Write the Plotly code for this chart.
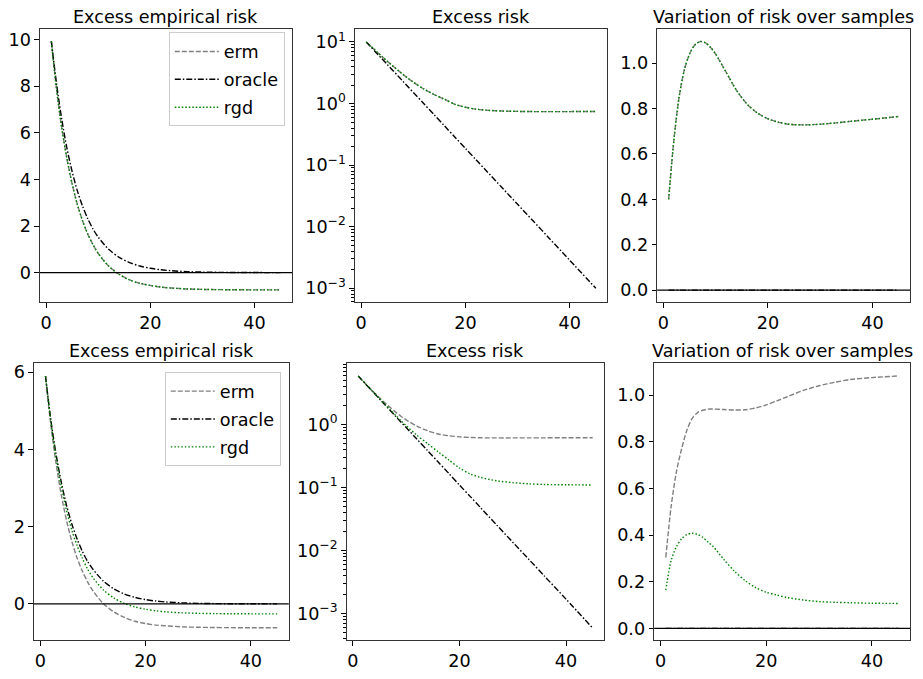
import plotly.graph_objects as go

# ---------------- data ----------------
X = [1, 2, 3, 4, 5, 6, 7, 8, 9, 10, 12, 14, 16, 18, 20, 22, 24, 27, 30, 33, 36, 40, 45]

# top row
erm_emp_top = [9.93, 7.87, 6.21, 4.88, 3.80, 2.92, 2.22, 1.65, 1.20, 0.82, 0.28, -0.07, -0.31, -0.46, -0.55,
               -0.62, -0.66, -0.70, -0.72, -0.73, -0.735, -0.74, -0.74]
oracle_emp_top = [9.93, 8.11, 6.58, 5.33, 4.33, 3.51, 2.85, 2.31, 1.87, 1.52, 1.00, 0.658, 0.432, 0.284, 0.187,
                  0.123, 0.081, 0.043, 0.023, 0.012, 0.0066, 0.0028, 0.001]
rgd_emp_top = [9.93, 7.87, 6.21, 4.88, 3.80, 2.92, 2.22, 1.65, 1.20, 0.82, 0.28, -0.07, -0.31, -0.46, -0.55,
               -0.62, -0.66, -0.70, -0.72, -0.73, -0.735, -0.74, -0.74]

erm_risk_top = [10.0, 8.33, 6.96, 5.82, 4.89, 4.13, 3.50, 2.99, 2.57, 2.23, 1.73, 1.40, 1.17, 0.97, 0.87,
                0.81, 0.78, 0.755, 0.745, 0.74, 0.74, 0.74, 0.742]
oracle_risk_top = [10.0, 8.11, 6.58, 5.33, 4.33, 3.51, 2.85, 2.31, 1.87, 1.52, 1.00, 0.658, 0.432, 0.284, 0.187,
                   0.123, 0.0808, 0.0431, 0.0230, 0.0123, 0.00655, 0.00283, 0.000994]
rgd_risk_top = [10.0, 8.33, 6.96, 5.82, 4.89, 4.13, 3.50, 2.99, 2.57, 2.23, 1.73, 1.40, 1.17, 0.97, 0.87,
                0.81, 0.78, 0.755, 0.745, 0.74, 0.74, 0.74, 0.742]

erm_var_top = [0.40, 0.66, 0.85, 0.97, 1.04, 1.08, 1.095, 1.09, 1.07, 1.04, 0.96, 0.88, 0.82, 0.78, 0.755,
               0.74, 0.731, 0.728, 0.731, 0.737, 0.744, 0.753, 0.765]
oracle_var_top = [0.0, 0.0, 0.0, 0.0, 0.0, 0.0, 0.0, 0.0, 0.0, 0.0, 0.0, 0.0, 0.0, 0.0, 0.0,
                  0.0, 0.0, 0.0, 0.0, 0.0, 0.0, 0.0, 0.0]
rgd_var_top = [0.40, 0.66, 0.85, 0.97, 1.04, 1.08, 1.095, 1.09, 1.07, 1.04, 0.96, 0.88, 0.82, 0.78, 0.755,
               0.74, 0.731, 0.728, 0.731, 0.737, 0.744, 0.753, 0.765]

# bottom row
erm_emp_bot = [5.90, 4.65, 3.64, 2.82, 2.16, 1.62, 1.19, 0.85, 0.57, 0.34, 0.005, -0.21, -0.35, -0.45, -0.51,
               -0.55, -0.57, -0.595, -0.606, -0.613, -0.616, -0.618, -0.62]
oracle_emp_bot = [5.90, 4.78, 3.88, 3.15, 2.55, 2.07, 1.68, 1.36, 1.10, 0.897, 0.590, 0.388, 0.255, 0.168, 0.110,
                  0.0726, 0.0477, 0.0254, 0.0136, 0.0073, 0.0039, 0.0017, 0.0006]
rgd_emp_bot = [5.90, 4.74, 3.80, 3.04, 2.42, 1.91, 1.51, 1.18, 0.90, 0.68, 0.36, 0.15, 0.01, -0.08, -0.14,
               -0.18, -0.21, -0.232, -0.245, -0.252, -0.256, -0.258, -0.26]

erm_risk_bot = [5.90, 4.80, 3.92, 3.22, 2.66, 2.22, 1.87, 1.58, 1.36, 1.19, 0.95, 0.80, 0.71, 0.665, 0.64,
                0.625, 0.618, 0.615, 0.615, 0.616, 0.617, 0.618, 0.62]
oracle_risk_bot = [5.90, 4.78, 3.88, 3.15, 2.55, 2.07, 1.68, 1.36, 1.10, 0.897, 0.590, 0.388, 0.255, 0.168, 0.110,
                   0.0726, 0.0477, 0.0254, 0.0136, 0.0073, 0.0039, 0.0017, 0.00059]
rgd_risk_bot = [5.90, 4.79, 3.89, 3.17, 2.58, 2.10, 1.72, 1.41, 1.16, 0.96, 0.68, 0.50, 0.37, 0.275, 0.205,
                0.165, 0.145, 0.128, 0.12, 0.115, 0.112, 0.111, 0.11]

erm_var_bot = [0.304, 0.52, 0.67, 0.77, 0.85, 0.90, 0.925, 0.935, 0.94, 0.94, 0.938, 0.936, 0.937, 0.945, 0.958,
               0.975, 0.993, 1.02, 1.04, 1.055, 1.067, 1.075, 1.082]
oracle_var_bot = [0.0, 0.0, 0.0, 0.0, 0.0, 0.0, 0.0, 0.0, 0.0, 0.0, 0.0, 0.0, 0.0, 0.0, 0.0,
                  0.0, 0.0, 0.0, 0.0, 0.0, 0.0, 0.0, 0.0]
rgd_var_bot = [0.164, 0.29, 0.35, 0.385, 0.402, 0.408, 0.403, 0.39, 0.37, 0.35, 0.295, 0.245, 0.205, 0.175, 0.155,
               0.143, 0.132, 0.122, 0.115, 0.112, 0.11, 0.108, 0.107]

TITLES = ["Excess empirical risk", "Excess risk", "Variation of risk over samples"]
SERIES = ["erm", "oracle", "rgd"]
LOG_TICKS = [0.001, 0.01, 0.1, 1, 10]
LOG_TICKTEXT = ["10<sup>\u22123</sup>", "10<sup>\u22122</sup>", "10<sup>\u22121</sup>", "10<sup>0</sup>", "10<sup>1</sup>"]

panels = [
    (erm_emp_top, oracle_emp_top, rgd_emp_top),
    (erm_risk_top, oracle_risk_top, rgd_risk_top),
    (erm_var_top, oracle_var_top, rgd_var_top),
    (erm_emp_bot, oracle_emp_bot, rgd_emp_bot),
    (erm_risk_bot, oracle_risk_bot, rgd_risk_bot),
    (erm_var_bot, oracle_var_bot, rgd_var_bot),
]

# ---------------- layout ----------------
# the page body has an 8px margin; the figure is sized to fit inside it
OFF = 8
W, H = 923 - 2 * OFF, 679 - 2 * OFF
# target screenshot pixel boxes (left, top, right, bottom)
boxes = [
    (36, 28, 289.3, 307.7),
    (352.3, 28, 606, 307.5),
    (656, 28.3, 910, 307.5),
    (30, 370, 286, 652.7),
    (344, 369.5, 603, 652.7),
    (653, 370, 910, 652.7),
]
yranges = [
    [-1.277, 10.475],
    [-3.228, 1.218],
    [-0.053, 1.151],
    [-0.938, 6.228],
    [-3.42, 0.98],
    [-0.050, 1.136],
]
styles = {
    "erm": dict(color="#808080", dash="5px,2px", width=1.4),
    "oracle": dict(color="#000000", dash="6px,2px,1.5px,2px", width=1.4),
    "rgd": dict(color="#008000", dash="1.5px,2px", width=1.4),
}


def fx(px):
    return (px - OFF) / W


def fy(py):
    return 1 - (py - OFF) / H


FONT = "DejaVu Sans"
FS = 17.6
fig = go.Figure()
minor_vals = [m * 10 ** e for e in range(-4, 2) for m in range(2, 10)]

for i, (data, box) in enumerate(zip(panels, boxes)):
    n = i + 1
    xa = "x" if n == 1 else f"x{n}"
    ya = "y" if n == 1 else f"y{n}"
    col = i % 3
    for name, vals in zip(SERIES, data):
        show = col == 0
        legend = "legend2" if i == 3 else "legend"
        fig.add_trace(go.Scatter(
            x=X, y=vals, mode="lines", name=name, xaxis=xa, yaxis=ya,
            line=dict(shape="spline", smoothing=0.8, **styles[name]),
            showlegend=show, legend=legend, legendgroup=f"{name}{i}",
        ))
    l, t, r, b = box
    xkey = "xaxis" if n == 1 else f"xaxis{n}"
    ykey = "yaxis" if n == 1 else f"yaxis{n}"
    axis_common = dict(showline=True, linecolor="#333333", linewidth=1, mirror=True,
                       ticks="outside", ticklen=4.5, tickwidth=1, tickcolor="#000000",
                       showgrid=False, zeroline=False,
                       tickfont=dict(family=FONT, size=FS, color="#000000"))
    fig.layout[xkey] = dict(domain=[fx(l), fx(r)], range=[-1.2, 47.2], anchor=ya,
                            tickvals=[0, 20, 40], **axis_common)
    if col == 1:
        fig.layout[ykey] = dict(domain=[fy(b), fy(t)], type="log", range=yranges[i], anchor=xa,
                                tickvals=LOG_TICKS, ticktext=LOG_TICKTEXT,
                                minor=dict(ticks="outside", ticklen=2.5, tickwidth=0.8, tickcolor="#000000",
                                           tickmode="array", tickvals=minor_vals),
                                **axis_common)
    else:
        if col == 0:
            tv = [0, 2, 4, 6, 8, 10] if i == 0 else [0, 2, 4, 6]
            tt = [str(v) for v in tv]
        else:
            tv = [0, 0.2, 0.4, 0.6, 0.8, 1.0]
            tt = [f"{v:.1f}" for v in tv]
        fig.layout[ykey] = dict(domain=[fy(b), fy(t)], range=yranges[i], anchor=xa,
                                tickvals=tv, ticktext=tt, **axis_common)
        fig.add_shape(type="line", xref=f"{xa} domain", yref=ya, x0=0, x1=1, y0=0, y1=0,
                      line=dict(color="#000000", width=1.4))
    fig.add_annotation(text=TITLES[col], xref="paper", yref="paper", x=fx((l + r) / 2), y=fy(t),
                       xanchor="center", yanchor="bottom", yshift=0, showarrow=False,
                       font=dict(family=FONT, size=FS, color="#000000"))

legend_common = dict(bgcolor="rgba(255,255,255,0.8)", bordercolor="#cccccc", borderwidth=1,
                     font=dict(family=FONT, size=FS, color="#000000"), xanchor="right", yanchor="top",
                     itemwidth=44, tracegroupgap=2)
fig.update_layout(
    width=W, height=H, margin=dict(l=0, r=0, t=0, b=0),
    plot_bgcolor="white", paper_bgcolor="white",
    font=dict(family=FONT, size=FS, color="#000000"),
    legend=dict(x=fx(282), y=fy(32), **legend_common),
    legend2=dict(x=fx(278), y=fy(379), **legend_common),
)

fig.write_html("out.html")
